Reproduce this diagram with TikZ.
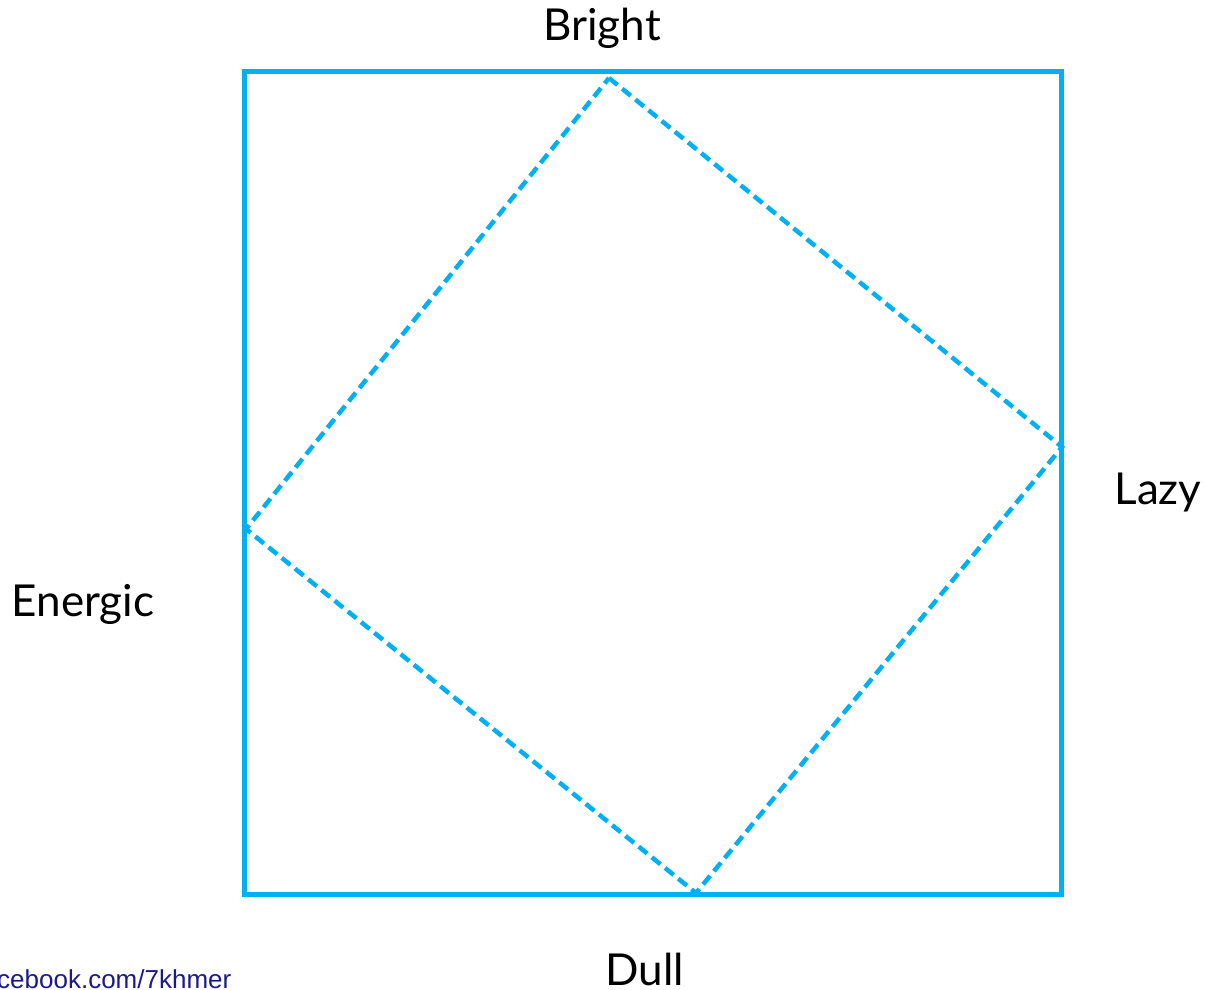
\documentclass[tikz,border=0pt]{standalone}
\usepackage{fontspec}
\setmainfont{Lato}
\newfontfamily\footfont{Liberation Sans}
\definecolor{cy}{HTML}{00B0F0}
\definecolor{navy}{HTML}{1A1A8C}
\begin{document}
\begin{tikzpicture}[x=1pt,y=-1pt,
  lbl/.style={font=\fontsize{44}{50}\selectfont, text=black, inner sep=0pt},
  frame/.style={draw=cy, line width=5pt},
  dia/.style={draw=cy, line width=4.5pt, dash pattern=on 11pt off 6pt, line join=miter}]
\useasboundingbox (0,0) rectangle (1205,990);
\clip (0,0) rectangle (1205,990);
% outer square
\coordinate (tl) at (244,72);
\coordinate (br) at (1061,894);
\draw[frame] (tl) rectangle (br);
% dashed diamond
\coordinate (dt) at (609,78);
\coordinate (dr) at (1062,447);
\coordinate (db) at (696,893);
\coordinate (dl) at (246,529);
\draw[dia] (dt) -- (dr) -- (db) -- (dl) -- cycle;
% labels
\node[lbl] (bright) at (602,28) {Bright};
\node[lbl] (lazy) at (1158,493) {Lazy};
\node[lbl] (energic) at (83,604) {Energic};
\node[lbl, anchor=base] (dull) at (645,985) {Dull};
\node[anchor=base west, inner sep=0pt, text=navy, font=\footfont\fontsize{26}{30}\selectfont] (foot) at (-3,988) {cebook.com/7khmer};
\end{tikzpicture}
\end{document}
